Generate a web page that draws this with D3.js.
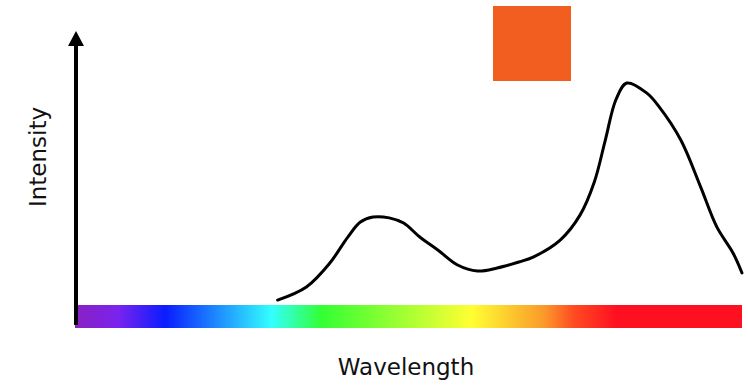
<!DOCTYPE html>
<html>
<head>
<meta charset="utf-8">
<script src="https://cdn.jsdelivr.net/npm/d3@7"></script>
<style>
  body { margin: 0; background: #fff; }
  text { font-family: "DejaVu Sans", Verdana, sans-serif; fill: #111; }
</style>
</head>
<body>
<svg id="chart"></svg>
<script>
// spectrum curve, wavelength (nm) vs relative intensity (0-100)
const wavelengths = [492, 508, 521, 531, 538, 545, 554, 562, 571, 581, 592, 603, 614, 626, 634, 649, 660, 668, 674, 680, 686, 697, 704, 716, 727, 736, 745, 750]
const intensities = [1.8, 6.6, 15.3, 24.8, 30.3, 32.1, 31.8, 29.9, 24.8, 20.1, 14.6, 12.4, 13.5, 15.7, 17.5, 23.7, 32.8, 45.0, 60.0, 75.0, 81.0, 77.4, 72.3, 60.2, 43.1, 28.5, 19.0, 11.7]

// colour bar stops along the wavelength axis
const stopWavelengths = [380, 404, 430, 489, 517, 600, 640, 657, 680, 750]
const stopColors = ['#8a20c2', '#7a24ee', '#0a1cff', '#33ffff', '#33ff33', '#ffff33', '#fb9a2a', '#ff4a22', '#ff1020', '#ff1020']

// swatch of the dominant colour
const swatchColor = '#f25e20'

const xLabel = 'Wavelength'
const yLabel = 'Intensity'

class SpectrumChart {
    constructor(_config) {
        this.config = {
            parentElement: _config.parentElement,
            containerWidth: _config.containerWidth || 748,
            containerHeight: _config.containerHeight || 386,
            margin: {top: 31, right: 6, bottom: 58, left: 76},
        }
        this.initVis()
    }

    initVis() {
        let vis = this

        vis.width = vis.config.containerWidth - vis.config.margin.left - vis.config.margin.right
        vis.height = vis.config.containerHeight - vis.config.margin.top - vis.config.margin.bottom

        vis.svg = d3.select(vis.config.parentElement)
            .attr('width', vis.config.containerWidth)
            .attr('height', vis.config.containerHeight)

        vis.chart = vis.svg.append('g')
            .attr('transform', `translate(${vis.config.margin.left},${vis.config.margin.top})`)

        vis.barHeight = 23
        vis.barTop = vis.height - vis.barHeight

        vis.xScale = d3.scaleLinear()
            .domain([380, 750])
            .range([0, vis.width])
        vis.yScale = d3.scaleLinear()
            .domain([0, 100])
            .range([vis.barTop, 0])

        vis.renderVis()
    }

    renderVis() {
        let vis = this

        // gradient for the spectrum bar
        let grad = vis.svg.append('defs').append('linearGradient')
            .attr('id', 'spectrum')
            .attr('x1', 0).attr('x2', 1).attr('y1', 0).attr('y2', 0)
        grad.selectAll('stop')
            .data(stopWavelengths)
            .join('stop')
                .attr('offset', d => vis.xScale(d) / vis.width)
                .attr('stop-color', (d, i) => stopColors[i])

        vis.chart.append('rect')
            .attr('x', vis.xScale(380) - 1)
            .attr('y', vis.barTop)
            .attr('width', vis.xScale(750) - vis.xScale(380) + 1)
            .attr('height', vis.barHeight)
            .attr('fill', 'url(#spectrum)')

        // y axis arrow
        vis.chart.append('line')
            .attr('x1', 0).attr('x2', 0)
            .attr('y1', vis.height - 3)
            .attr('y2', 12)
            .attr('stroke', '#000')
            .attr('stroke-width', 4)
        vis.chart.append('path')
            .attr('d', `M0,0 L-8,15 L8,15 Z`)
            .attr('fill', '#000')

        // intensity curve
        let points = wavelengths.map((w, i) => [w, intensities[i]])
        let line = d3.line()
            .x(d => vis.xScale(d[0]))
            .y(d => vis.yScale(d[1]))
            .curve(d3.curveCatmullRom.alpha(0.5))
        vis.chart.append('path')
            .datum(points)
            .attr('d', line)
            .attr('fill', 'none')
            .attr('stroke', '#000')
            .attr('stroke-width', 3)
            .attr('stroke-linecap', 'round')

        // colour swatch
        vis.chart.append('rect')
            .attr('x', 417)
            .attr('y', -25)
            .attr('width', 78)
            .attr('height', 75)
            .attr('fill', swatchColor)

        // labels
        vis.svg.append('text')
            .attr('x', 406)
            .attr('y', 375)
            .attr('text-anchor', 'middle')
            .style('font-size', '23px')
            .text(xLabel)
        vis.svg.append('text')
            .attr('transform', 'translate(46,157) rotate(-90)')
            .attr('text-anchor', 'middle')
            .style('font-size', '23px')
            .text(yLabel)
    }
}

new SpectrumChart({parentElement: '#chart'})
</script>
</body>
</html>
